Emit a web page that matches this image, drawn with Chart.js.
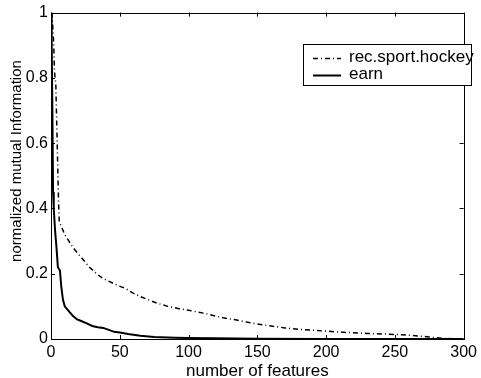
<!DOCTYPE html>
<html><head><meta charset="utf-8">
<script src="https://cdn.jsdelivr.net/npm/chart.js@4/dist/chart.umd.min.js"></script>
<style>html,body{margin:0;padding:0;background:#fff}#wrap{width:481px;height:378px}</style>
</head><body><div id="wrap"><canvas id="c" width="481" height="378"></canvas></div>
<script>
const hockeyX = [0.5,1,2,2.5,3.5,4.5,5.5,6,8,10,13,16,19,23,28,33,38,43,48,54,60,65,72,77,85,93,100,110,117,125,135,142,150,160,170,180,190,200,215,230,245,255,265,275,285,295,300];
const hockeyY = [1,0.98,0.9,0.82,0.78,0.6,0.42,0.36,0.34,0.32,0.3,0.28,0.265,0.245,0.22,0.2,0.185,0.175,0.165,0.155,0.14,0.13,0.118,0.11,0.1,0.093,0.088,0.08,0.073,0.065,0.058,0.052,0.046,0.04,0.034,0.03,0.027,0.024,0.02,0.017,0.015,0.013,0.01,0.006,0.002,0,0];
const earnX = [0,0.5,1,1.5,2,3,4,5,6.5,7.5,8.7,10,12,14,16,19,22,26,30,34,38,42,46,50,56,65,75,90,100,120,150,200,250,300];
const earnY = [1,0.9,0.7,0.45,0.4,0.33,0.28,0.22,0.21,0.16,0.12,0.1,0.09,0.08,0.07,0.06,0.055,0.048,0.04,0.036,0.034,0.028,0.022,0.02,0.015,0.01,0.006,0.004,0.003,0.002,0.001,0,0,0];
const seriesNames = ['rec.sport.hockey','earn'];
const xTicks = [0,50,100,150,200,250,300];
const yTicks = [0,0.2,0.4,0.6,0.8,1];
const xTitle = 'number of features';
const yTitle = 'normalized mutual Information';
const FONT = 'Liberation Sans, Arial, sans-serif';

const toPts = (xs, ys) => xs.map((x,i)=>({x, y: ys[i]}));
const hockeyDash = [5,3,1,3];

const boxPlugin = {
  id: 'box',
  afterDraw(chart) {
    const ctx = chart.ctx, a = chart.chartArea;
    const xs = chart.scales.x, ys = chart.scales.y;
    ctx.save();
    ctx.strokeStyle = '#000'; ctx.lineWidth = 1;
    ctx.strokeRect(Math.round(a.left)+0.5, Math.round(a.top)+0.5, Math.round(a.right-a.left), Math.round(a.bottom-a.top));
    const tl = 4;
    ctx.beginPath();
    xTicks.forEach(v => {
      const p = Math.round(xs.getPixelForValue(v)) + 0.5;
      ctx.moveTo(p, a.bottom); ctx.lineTo(p, a.bottom - tl);
      ctx.moveTo(p, a.top); ctx.lineTo(p, a.top + tl);
    });
    yTicks.forEach(v => {
      const p = Math.round(ys.getPixelForValue(v)) + 0.5;
      ctx.moveTo(a.left, p); ctx.lineTo(a.left + tl, p);
      ctx.moveTo(a.right, p); ctx.lineTo(a.right - tl, p);
    });
    ctx.stroke();
    // y title
    ctx.save();
    ctx.translate(17, 161);
    ctx.rotate(-Math.PI/2);
    ctx.font = '15px ' + FONT;
    ctx.fillStyle = '#000';
    ctx.textAlign = 'center';
    ctx.textBaseline = 'middle';
    ctx.fillText(yTitle, 0, 0);
    ctx.restore();
    // legend
    const lx = 303.5, ly = 44.5, lw = 168, lh = 41;
    ctx.fillStyle = '#fff';
    ctx.fillRect(lx, ly, lw, lh);
    ctx.strokeRect(lx, ly, lw, lh);
    ctx.font = '17px ' + FONT;
    ctx.fillStyle = '#000';
    ctx.textBaseline = 'middle';
    const rows = [{y: 57.5, dash: hockeyDash, w: 1.5}, {y: 74.5, dash: [], w: 2}];
    rows.forEach((r, i) => {
      ctx.beginPath();
      ctx.setLineDash(r.dash);
      ctx.lineWidth = r.w;
      ctx.moveTo(313, r.y + 1); ctx.lineTo(341, r.y + 1);
      ctx.stroke();
      ctx.setLineDash([]);
      ctx.fillText(seriesNames[i], 349, r.y);
    });
    ctx.restore();
  }
};

new Chart(document.getElementById('c'), {
  type: 'scatter',
  data: {
    datasets: [
      {label: seriesNames[0], data: toPts(hockeyX, hockeyY), showLine: true, borderColor: '#000', borderWidth: 1.5, borderDash: hockeyDash, pointRadius: 0, tension: 0, fill: false},
      {label: seriesNames[1], data: toPts(earnX, earnY), showLine: true, borderColor: '#000', borderWidth: 2, pointRadius: 0, tension: 0, fill: false}
    ]
  },
  options: {
    responsive: false, animation: false,
    layout: {padding: {left: 0, right: 15, top: 12, bottom: 0}},
    plugins: {legend: {display: false}, tooltip: {enabled: false}},
    scales: {
      x: {
        type: 'linear', min: 0, max: 300,
        afterFit(s) { s.height = 39; },
        afterBuildTicks(s) { s.ticks = xTicks.map(v => ({value: v})); },
        grid: {display: false, drawTicks: false},
        border: {display: false},
        ticks: {color: '#000', font: {family: FONT, size: 16}, padding: 4, maxRotation: 0},
        title: {display: true, text: xTitle, color: '#000', font: {family: FONT, size: 17, lineHeight: 0.8}, padding: {top: 0, bottom: 0}}
      },
      y: {
        type: 'linear', min: 0, max: 1,
        afterFit(s) { s.width = 51; },
        afterBuildTicks(s) { s.ticks = yTicks.map(v => ({value: v})); },
        grid: {display: false, drawTicks: false},
        border: {display: false},
        ticks: {color: '#000', font: {family: FONT, size: 16}, padding: 3, callback: v => String(v)},
        title: {display: false}
      }
    }
  },
  plugins: [boxPlugin]
});
</script></body></html>
